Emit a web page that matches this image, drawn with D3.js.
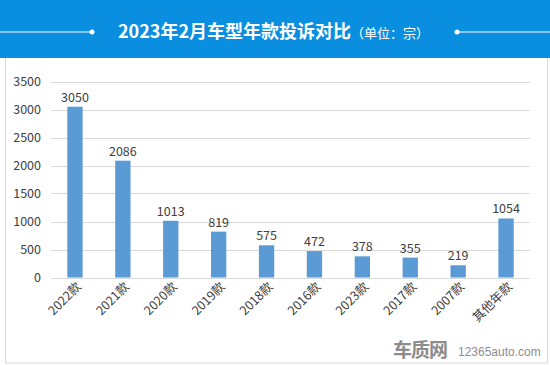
<!DOCTYPE html>
<html><head><meta charset="utf-8">
<script src="https://cdn.jsdelivr.net/npm/d3@7"></script>
<style>body{margin:0;background:#fff}svg{display:block}</style>
</head><body>
<script>
const categories = ["2022款","2021款","2020款","2019款","2018款","2016款","2023款","2017款","2007款","其他年款"];
const values = [3050,2086,1013,819,575,472,378,355,219,1054];
const yTicks = [0,500,1000,1500,2000,2500,3000,3500];
const titleMain = "2023年2月车型年款投诉对比";
const titleSub = "（单位：宗）";

const W=550,H=365;
const svg=d3.select("body").append("svg").attr("width",W).attr("height",H);
const font="'Microsoft YaHei','Noto Sans CJK SC','DejaVu Sans',sans-serif";

// frame
svg.append("rect").attr("x",5.5).attr("y",0).attr("width",542).attr("height",363).attr("fill","#fff").attr("stroke","#d9d9d9");
// header
svg.append("rect").attr("x",0).attr("y",0).attr("width",W).attr("height",58).attr("fill","#0a8fe0");
svg.append("line").attr("x1",0).attr("x2",92).attr("y1",32).attr("y2",32).attr("stroke","#fff").attr("stroke-width",1);
svg.append("circle").attr("cx",92).attr("cy",32).attr("r",2.5).attr("fill","#fff");
svg.append("line").attr("x1",457).attr("x2",W).attr("y1",32).attr("y2",32).attr("stroke","#fff").attr("stroke-width",1);
svg.append("circle").attr("cx",457).attr("cy",32).attr("r",2.5).attr("fill","#fff");
const t=svg.append("text").attr("x",118).attr("y",38).attr("fill","#fff").attr("font-family",font);
t.append("tspan").attr("font-size",18).attr("font-weight","bold").text(titleMain);
t.append("tspan").attr("font-size",13).text(titleSub);

const x=d3.scaleBand().domain(categories).range([51,530]).paddingInner(0.68).paddingOuter(0.34);
const y=d3.scaleLinear().domain([0,3500]).range([277.5,81.5]);

const grid=svg.append("g");
grid.selectAll("line").data(yTicks).join("line")
 .attr("x1",51).attr("x2",530).attr("y1",d=>Math.round(y(d))+0.5).attr("y2",d=>Math.round(y(d))+0.5)
 .attr("stroke","#d9d9d9").attr("stroke-width",1);

const yAxis=svg.append("g").attr("transform","translate(41,0)")
 .call(d3.axisLeft(y).tickValues(yTicks).tickFormat(d3.format("d")).tickSize(0).tickPadding(0));
yAxis.select(".domain").remove();
yAxis.selectAll("text").attr("font-family",font).attr("font-size",12.5).attr("fill","#404040");

svg.append("g").selectAll("rect").data(values).join("rect")
 .attr("x",(d,i)=>x(categories[i])).attr("width",x.bandwidth())
 .attr("y",d=>y(d)).attr("height",d=>y(0)-y(d)).attr("fill","#5b9bd5");

svg.append("g").selectAll("text").data(values).join("text")
 .attr("x",(d,i)=>x(categories[i])+x.bandwidth()/2).attr("y",d=>y(d)-5)
 .attr("text-anchor","middle").attr("font-family",font).attr("font-size",12.5).attr("fill","#404040").text(d=>d);

const xAxis=svg.append("g").attr("transform","translate(0,277.5)")
 .call(d3.axisBottom(x).tickSize(0).tickPadding(0));
xAxis.select(".domain").remove();
xAxis.selectAll("text").attr("font-family",font).attr("font-size",12.5).attr("fill","#404040")
 .attr("text-anchor","end").attr("dy",0).attr("transform","translate(7,10) rotate(-45)");

// watermark
svg.append("text").attr("x",393).attr("y",357).attr("font-family",font).attr("font-size",19).attr("font-weight","bold").attr("fill","#8c8c8c").attr("letter-spacing",-1).text("车质网");
svg.append("text").attr("x",458).attr("y",356).attr("font-family","Arial,'Liberation Sans',sans-serif").attr("font-size",12).attr("fill","#8c8c8c").text("12365auto.com");
</script>
</body></html>
